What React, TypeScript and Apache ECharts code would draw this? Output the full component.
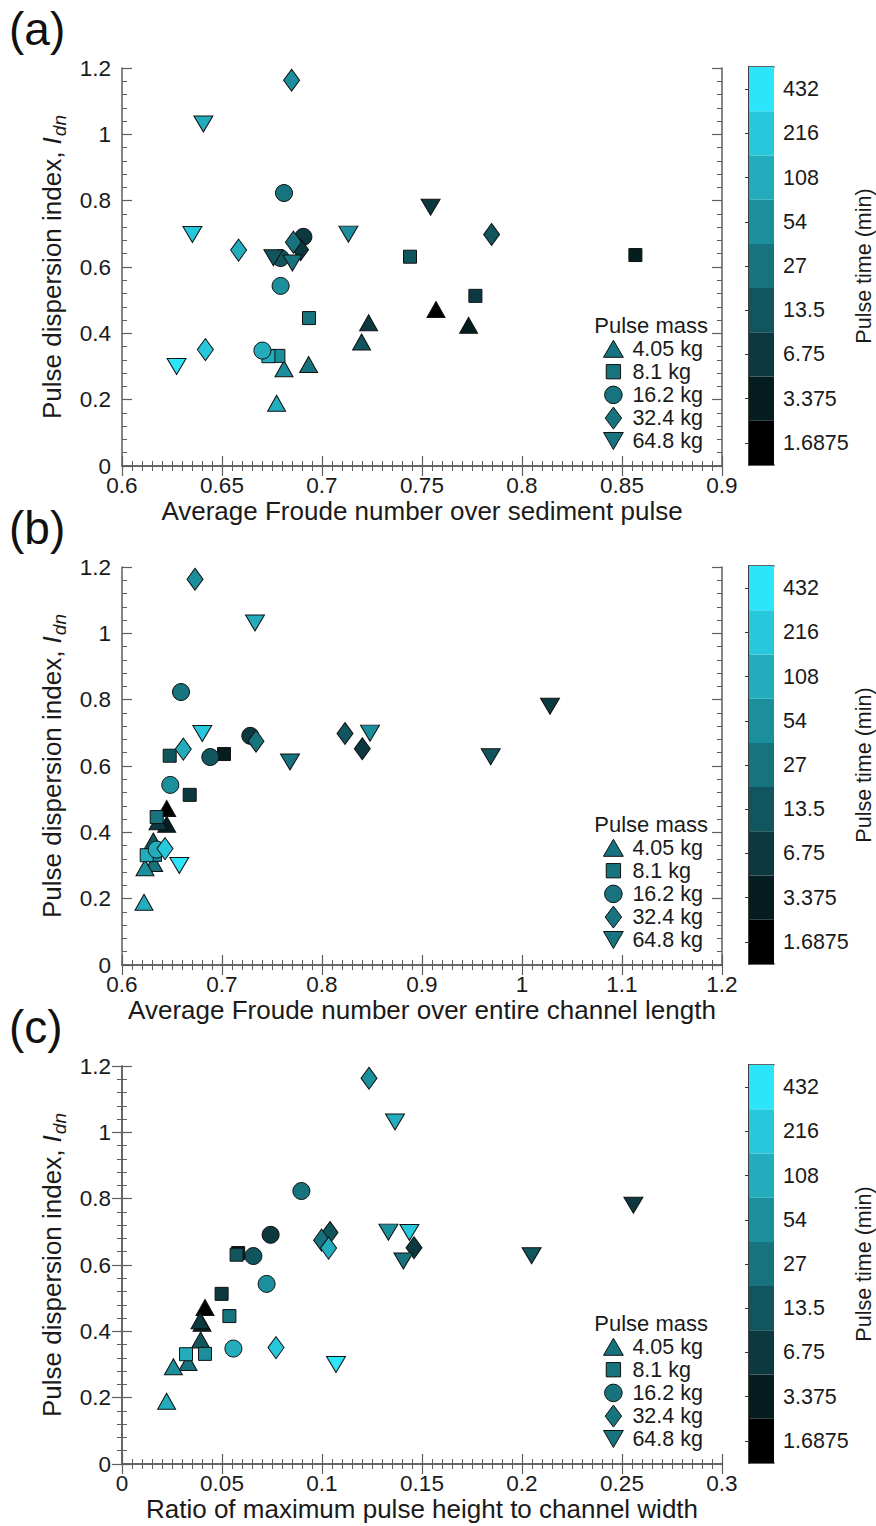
import React, { useEffect, useRef } from "react";
import * as echarts from "echarts";

const FONT = '"Liberation Sans", Arial, Helvetica, sans-serif';
const INK = "#1a1a1a";
const AXIS_GREY = "#5e5e5e";

// Pulse time levels (min), low to high, and the colour of each level
const PULSE_TIMES = [1.6875, 3.375, 6.75, 13.5, 27, 54, 108, 216, 432];
const TIME_COLORS = [
  "#000000",
  "#061d1f",
  "#0b393f",
  "#11565e",
  "#17737d",
  "#1c8f9c",
  "#22acbc",
  "#27c8db",
  "#2de5fa",
];
const TIME_LABELS = PULSE_TIMES.map(String);

const MASS_LABELS = ["4.05 kg", "8.1 kg", "16.2 kg", "32.4 kg", "64.8 kg"];

// 4.05 kg pulses
const TIME_4_05 = [1.6875, 3.375, 6.75, 13.5, 27, 54, 108];
const IDN_4_05 = [0.472, 0.424, 0.432, 0.374, 0.306, 0.293, 0.189];
const FR_PULSE_4_05 = [0.757, 0.7733, 0.7233, 0.7198, 0.6933, 0.681, 0.6773];
const FR_CHANNEL_4_05 = [0.6447, 0.6447, 0.636, 0.6313, 0.6317, 0.623, 0.622];
const HEIGHT_RATIO_4_05 = [0.0415, 0.04, 0.039, 0.0393, 0.033, 0.0257, 0.0223];

// 8.1 kg pulses
const TIME_8_1 = [3.375, 6.75, 13.5, 27, 54, 108];
const IDN_8_1 = [0.636, 0.513, 0.631, 0.446, 0.332, 0.331];
const FR_PULSE_8_1 = [0.8567, 0.7767, 0.744, 0.6935, 0.6782, 0.6732];
const FR_CHANNEL_8_1 = [0.702, 0.6677, 0.6477, 0.6347, 0.633, 0.6247];
const HEIGHT_RATIO_8_1 = [0.0581, 0.0498, 0.0573, 0.0537, 0.0415, 0.032];

// 16.2 kg pulses
const TIME_16_2 = [6.75, 13.5, 27, 54, 108];
const IDN_16_2 = [0.691, 0.627, 0.823, 0.543, 0.348];
const FR_PULSE_16_2 = [0.6907, 0.6793, 0.681, 0.6793, 0.6702];
const FR_CHANNEL_16_2 = [0.7283, 0.6883, 0.659, 0.6483, 0.6347];
const HEIGHT_RATIO_16_2 = [0.0743, 0.0657, 0.0897, 0.0723, 0.0557];

// 32.4 kg pulses
const TIME_32_4 = [6.75, 13.5, 27, 54, 108, 216];
const IDN_32_4 = [0.652, 0.698, 0.675, 1.163, 0.651, 0.351];
const FR_PULSE_32_4 = [0.6893, 0.7848, 0.6857, 0.6848, 0.6583, 0.6417];
const FR_CHANNEL_32_4 = [0.8403, 0.823, 0.734, 0.673, 0.6613, 0.643];
const HEIGHT_RATIO_32_4 = [0.146, 0.104, 0.0998, 0.1235, 0.1033, 0.077];

// 64.8 kg pulses
const TIME_64_8 = [6.75, 13.5, 27, 54, 108, 216, 432];
const IDN_64_8 = [0.78, 0.628, 0.612, 0.699, 1.031, 0.698, 0.3];
const FR_PULSE_64_8 = [0.7543, 0.6757, 0.6852, 0.7132, 0.6407, 0.6352, 0.6273];
const FR_CHANNEL_64_8 = [1.028, 0.9687, 0.768, 0.848, 0.733, 0.6803, 0.6573];
const HEIGHT_RATIO_64_8 = [0.2557, 0.2048, 0.1407, 0.1332, 0.1365, 0.1437, 0.107];

// Y-axis ticks shared by all panels
const Y_MIN = 0;
const Y_MAX = 1.2;
const Y_STEP = 0.2;

const PANELS = [
  { tag: "(a)", xTitle: "Average Froude number over sediment pulse", min: 0.6, max: 0.9, step: 0.05 },
  { tag: "(b)", xTitle: "Average Froude number over entire channel length", min: 0.6, max: 1.2, step: 0.1 },
  { tag: "(c)", xTitle: "Ratio of maximum pulse height to channel width", min: 0, max: 0.3, step: 0.05 },
];

const DOWN_TRIANGLE = "path://M0,0L20,0L10,17Z";

const GROUPS = [
  { symbol: "triangle", size: [18, 16], times: TIME_4_05, idn: IDN_4_05, xs: [FR_PULSE_4_05, FR_CHANNEL_4_05, HEIGHT_RATIO_4_05] },
  { symbol: "rect", size: [13, 13], times: TIME_8_1, idn: IDN_8_1, xs: [FR_PULSE_8_1, FR_CHANNEL_8_1, HEIGHT_RATIO_8_1] },
  { symbol: "circle", size: [17, 17], times: TIME_16_2, idn: IDN_16_2, xs: [FR_PULSE_16_2, FR_CHANNEL_16_2, HEIGHT_RATIO_16_2] },
  { symbol: "diamond", size: [16, 22], times: TIME_32_4, idn: IDN_32_4, xs: [FR_PULSE_32_4, FR_CHANNEL_32_4, HEIGHT_RATIO_32_4] },
  { symbol: DOWN_TRIANGLE, size: [19, 16], times: TIME_64_8, idn: IDN_64_8, xs: [FR_PULSE_64_8, FR_CHANNEL_64_8, HEIGHT_RATIO_64_8] },
];

// Legend glyphs drawn inside an 18 x 20 box
const LEGEND_ICONS = [
  "path://M0,0M18,20M0,18L9,2.5L18,18Z",
  "path://M0,0M18,20M2.5,3.5L15.5,3.5L15.5,16.5L2.5,16.5Z",
  "path://M0,0M18,20M17,10A8,8,0,1,1,1,10A8,8,0,1,1,17,10Z",
  "path://M0,0M18,20M9,0L16.5,10L9,20L1.5,10Z",
  "path://M0,0M18,20M0,2L18,2L9,17.5Z",
];
const LEGEND_COLOR = "#17737d";

// Layout
const PANEL_TOP = [68, 567, 1066];
const PLOT_LEFT = 122;
const PLOT_W = 600;
const PLOT_H = 398;
const CB_LEFT = 749;
const CB_W = 25;

const colorOf = (t: number) => TIME_COLORS[PULSE_TIMES.indexOf(t)];

const axisLine = { show: true, lineStyle: { color: AXIS_GREY, width: 1.5 } };
const majorTick = { show: true, inside: true, length: 10, lineStyle: { color: AXIS_GREY, width: 1.2 } };
const minorTick = (n: number) => ({ show: true, splitNumber: n, length: 5, lineStyle: { color: AXIS_GREY, width: 1 } });
const tickLabel = { fontFamily: FONT, fontSize: 22.5, color: INK };

function buildOption() {
  const grid: any[] = [];
  const xAxis: any[] = [];
  const yAxis: any[] = [];
  const series: any[] = [];
  const legend: any[] = [];
  const graphic: any[] = [];

  PANELS.forEach((panel, p) => {
    const top = PANEL_TOP[p];
    grid.push({ left: PLOT_LEFT, top, width: PLOT_W, height: PLOT_H });
    grid.push({ left: CB_LEFT, top: top - 1, width: CB_W, height: PLOT_H });
    const plotGrid = 2 * p;
    const cbGrid = 2 * p + 1;

    const xBase = {
      type: "value",
      gridIndex: plotGrid,
      min: panel.min,
      max: panel.max,
      interval: panel.step,
      axisLine,
      axisTick: majorTick,
      minorTick: minorTick(10),
      splitLine: { show: false },
      minorSplitLine: { show: false },
    };
    xAxis.push({
      ...xBase,
      position: "bottom",
      axisLabel: { ...tickLabel, margin: 8 },
      name: panel.xTitle,
      nameLocation: "middle",
      nameGap: 31,
      nameTextStyle: { fontFamily: FONT, fontSize: 26, color: INK },
    });
    xAxis.push({ ...xBase, position: "top", axisLabel: { show: false } });
    const cbX = {
      type: "value",
      gridIndex: cbGrid,
      min: 0,
      max: 1,
      axisLine: { show: true, lineStyle: { color: "#333", width: 1.5 } },
      axisTick: { show: false },
      axisLabel: { show: false },
      splitLine: { show: false },
    };
    xAxis.push({ ...cbX, position: "bottom" });
    xAxis.push({ ...cbX, position: "top" });

    const yBase = {
      type: "value",
      gridIndex: plotGrid,
      min: Y_MIN,
      max: Y_MAX,
      interval: Y_STEP,
      axisLine,
      axisTick: majorTick,
      minorTick: minorTick(5),
      splitLine: { show: false },
      minorSplitLine: { show: false },
    };
    const nameStyle = { fontFamily: FONT, fontSize: 26, color: INK, lineHeight: 30, verticalAlign: "top" };
    yAxis.push({
      ...yBase,
      position: "left",
      axisLabel: { ...tickLabel, margin: 11 },
      name: "{t|Pulse dispersion index, }{i|I}{s|dn}",
      nameLocation: "middle",
      nameRotate: 90,
      nameGap: 45,
      nameTextStyle: {
        fontFamily: FONT,
        fontSize: 26,
        color: INK,
        rich: {
          t: nameStyle,
          i: { ...nameStyle, fontStyle: "italic" },
          s: {
            fontFamily: FONT,
            fontSize: 19,
            fontStyle: "italic",
            color: INK,
            lineHeight: 19,
            padding: [17, 0, 0, 1],
            verticalAlign: "bottom",
          },
        },
      },
    });
    yAxis.push({ ...yBase, position: "right", axisLabel: { show: false } });
    const cbY = {
      type: "category",
      gridIndex: cbGrid,
      data: TIME_LABELS,
      axisLine: { show: true, lineStyle: { color: "#333", width: 1.5 } },
      splitLine: { show: false },
    };
    yAxis.push({ ...cbY, position: "left", axisTick: { show: false }, axisLabel: { show: false } });
    yAxis.push({
      ...cbY,
      position: "right",
      axisTick: { show: true, inside: true, alignWithLabel: true, length: 4, lineStyle: { color: "#333", width: 1 } },
      axisLabel: { fontFamily: FONT, fontSize: 21.5, color: INK, margin: 9, interval: 0 },
      name: "Pulse time (min)",
      nameLocation: "middle",
      nameRotate: 90,
      nameGap: 78,
      nameTextStyle: { fontFamily: FONT, fontSize: 21.5, color: INK },
    });

    GROUPS.forEach((g, m) => {
      series.push({
        type: "scatter",
        name: MASS_LABELS[m],
        xAxisIndex: 4 * p,
        yAxisIndex: 4 * p,
        symbol: g.symbol,
        symbolSize: g.size,
        color: LEGEND_COLOR,
        itemStyle: { borderColor: "#111", borderWidth: 1, opacity: 1 },
        emphasis: { disabled: true },
        silent: true,
        data: g.xs[p].map((x, i) => ({
          value: [x, g.idn[i]],
          itemStyle: { color: colorOf(g.times[i]) },
        })),
      });
    });

    series.push({
      type: "bar",
      xAxisIndex: 4 * p + 2,
      yAxisIndex: 4 * p + 2,
      barWidth: "100%",
      barCategoryGap: "0%",
      silent: true,
      data: TIME_COLORS.map((c) => ({ value: 1, itemStyle: { color: c } })),
    });

    legend.push({
      orient: "vertical",
      left: 603,
      top: top + 269,
      padding: 0,
      itemWidth: 20,
      itemHeight: 22,
      itemGap: 0.2,
      itemTextGap: 14,
      selectedMode: false,
      textStyle: { fontFamily: FONT, fontSize: 21.5, color: INK, padding: [0, 0, 0, 4] },
      itemStyle: { color: LEGEND_COLOR, borderColor: "#111", borderWidth: 1 },
      data: MASS_LABELS.map((name, i) => ({ name, icon: LEGEND_ICONS[i] })),
    });

    graphic.push({
      type: "text",
      x: 708,
      y: top + 257,
      style: { text: "Pulse mass", fontFamily: FONT, fontSize: 22, fill: INK, align: "right", verticalAlign: "middle" },
    });
    graphic.push({
      type: "text",
      x: 9,
      y: top - 39,
      style: { text: panel.tag, fontFamily: FONT, fontSize: 46, fill: "#111", align: "left", verticalAlign: "middle" },
    });
  });

  return {
    animation: false,
    backgroundColor: "#ffffff",
    textStyle: { fontFamily: FONT },
    grid,
    xAxis,
    yAxis,
    series,
    legend,
    graphic,
  };
}

export default function App() {
  const ref = useRef<HTMLDivElement>(null);
  useEffect(() => {
    if (!ref.current) return;
    const chart = echarts.init(ref.current, undefined, { renderer: "svg" });
    chart.setOption(buildOption() as any);
    return () => chart.dispose();
  }, []);
  return (
    <div
      ref={ref}
      style={{ position: "absolute", left: 0, top: 0, width: 876, height: 1526, background: "#ffffff" }}
    />
  );
}
